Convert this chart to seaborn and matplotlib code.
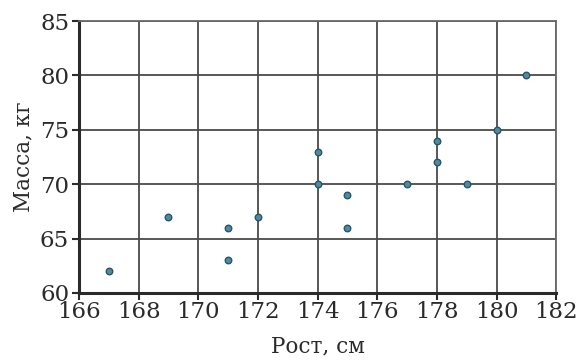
import matplotlib
matplotlib.use("Agg")
import matplotlib.pyplot as plt
import seaborn as sns
import pandas as pd

# данные: рост (см) и масса (кг)
rost = [167, 169, 171, 171, 172, 174, 174, 175, 175, 177, 178, 178, 179, 180, 181]
massa = [62, 67, 66, 63, 67, 73, 70, 69, 66, 70, 74, 72, 70, 75, 80]
x_ticks = [166, 168, 170, 172, 174, 176, 178, 180, 182]
y_ticks = [60, 65, 70, 75, 80, 85]

sns.set_style("white")
plt.rcParams['font.family'] = ['DejaVu Serif']

df = pd.DataFrame({'Рост': rost, 'Масса': massa})

fig = plt.figure(figsize=(5.8, 3.63), dpi=100)
ax = fig.add_axes([0.136, 0.193, 0.823, 0.749])

ax.set_xlim(166, 182)
ax.set_ylim(60, 85)
ax.set_xticks(x_ticks)
ax.set_yticks(y_ticks)
ax.grid(True, color='#4a4a4a', linewidth=1.3)
ax.set_axisbelow(True)

sns.scatterplot(data=df, x='Рост', y='Масса', ax=ax, s=22,
                color='#4f8ba0', edgecolor='#2b5466', linewidth=1.0, zorder=3)

for side in ['top', 'right']:
    ax.spines[side].set_color('#6a6a6a')
    ax.spines[side].set_linewidth(1.3)
for side in ['left', 'bottom']:
    ax.spines[side].set_color('#2a2a2a')
    ax.spines[side].set_linewidth(2.2)

ax.tick_params(axis='both', direction='out', length=5, width=1.5,
               colors='#2a2a2a', labelsize=16.5, pad=2, left=True, bottom=True)
ax.tick_params(axis='x', pad=1)
ax.set_xlabel('Рост, см', fontsize=15.5, color='#2a2a2a', labelpad=9)
ax.set_ylabel('Масса, кг', fontsize=15.5, color='#2a2a2a', labelpad=4)

fig.savefig('out.png', dpi=100)
